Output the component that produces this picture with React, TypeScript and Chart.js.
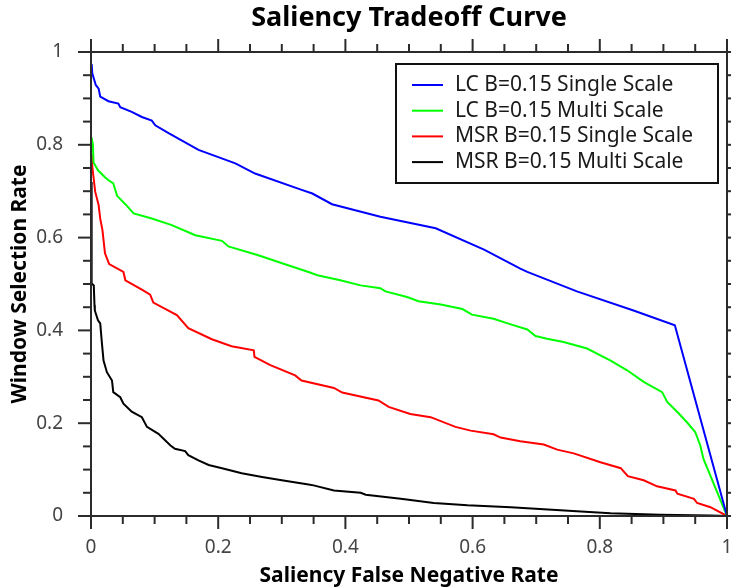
import React, { useEffect, useRef } from "react";
import { Chart, registerables } from "chart.js";

Chart.register(...registerables);

const chartTitle = "Saliency Tradeoff Curve";
const xAxisTitle = "Saliency False Negative Rate";
const yAxisTitle = "Window Selection Rate";

const seriesNames = [
  "LC B=0.15 Single Scale",
  "LC B=0.15 Multi Scale",
  "MSR B=0.15 Single Scale",
  "MSR B=0.15 Multi Scale",
];
const seriesColors = ["#0000ff", "#00ff00", "#ff0000", "#000000"];

const lcSingleX = [0.001, 0.002, 0.0075, 0.012, 0.0145, 0.0275, 0.043, 0.046, 0.064, 0.080, 0.0956, 0.101, 0.122, 0.169, 0.227, 0.258, 0.329, 0.348, 0.379, 0.455, 0.542, 0.618, 0.675, 0.686, 0.764, 0.853, 0.918, 1.0];
const lcSingleY = [0.974, 0.954, 0.929, 0.921, 0.904, 0.894, 0.889, 0.881, 0.871, 0.860, 0.852, 0.842, 0.825, 0.789, 0.760, 0.738, 0.704, 0.695, 0.672, 0.645, 0.620, 0.574, 0.533, 0.526, 0.484, 0.443, 0.411, 0.0];

const lcMultiX = [0.001, 0.003, 0.004, 0.011, 0.022, 0.027, 0.035, 0.041, 0.054, 0.067, 0.0956, 0.127, 0.164, 0.206, 0.216, 0.263, 0.311, 0.342, 0.356, 0.392, 0.424, 0.455, 0.463, 0.497, 0.515, 0.550, 0.584, 0.599, 0.633, 0.660, 0.686, 0.699, 0.717, 0.743, 0.780, 0.817, 0.843, 0.869, 0.898, 0.906, 0.922, 0.937, 0.950, 0.958, 0.963, 1.0];
const lcMultiY = [0.816, 0.80, 0.762, 0.745, 0.730, 0.724, 0.717, 0.690, 0.672, 0.652, 0.641, 0.627, 0.605, 0.593, 0.581, 0.562, 0.540, 0.526, 0.519, 0.508, 0.497, 0.491, 0.484, 0.472, 0.463, 0.456, 0.446, 0.434, 0.425, 0.413, 0.402, 0.388, 0.382, 0.375, 0.361, 0.335, 0.314, 0.289, 0.267, 0.246, 0.224, 0.202, 0.181, 0.152, 0.123, 0.0];

const msrSingleX = [0.001, 0.002, 0.0066, 0.012, 0.0145, 0.018, 0.022, 0.0286, 0.051, 0.054, 0.080, 0.093, 0.098, 0.135, 0.153, 0.190, 0.221, 0.256, 0.257, 0.282, 0.321, 0.331, 0.382, 0.395, 0.452, 0.468, 0.502, 0.534, 0.573, 0.597, 0.633, 0.644, 0.675, 0.712, 0.733, 0.759, 0.801, 0.833, 0.844, 0.869, 0.890, 0.919, 0.922, 0.948, 0.953, 0.974, 1.0];
const msrSingleY = [0.78, 0.753, 0.699, 0.670, 0.641, 0.616, 0.566, 0.543, 0.526, 0.508, 0.488, 0.477, 0.460, 0.433, 0.405, 0.381, 0.366, 0.357, 0.343, 0.325, 0.303, 0.292, 0.276, 0.266, 0.249, 0.235, 0.220, 0.213, 0.192, 0.184, 0.176, 0.169, 0.161, 0.154, 0.143, 0.135, 0.116, 0.103, 0.086, 0.077, 0.064, 0.055, 0.048, 0.037, 0.028, 0.019, 0.0];

const msrMultiX = [0.001, 0.001, 0.0044, 0.0055, 0.006, 0.011, 0.0145, 0.017, 0.0197, 0.025, 0.033, 0.035, 0.046, 0.051, 0.064, 0.080, 0.088, 0.106, 0.125, 0.132, 0.148, 0.153, 0.169, 0.185, 0.206, 0.237, 0.269, 0.300, 0.342, 0.350, 0.382, 0.424, 0.432, 0.487, 0.539, 0.592, 0.660, 0.764, 0.817, 0.895, 0.974, 1.0];
const msrMultiY = [0.72, 0.501, 0.497, 0.454, 0.443, 0.422, 0.415, 0.375, 0.335, 0.310, 0.292, 0.267, 0.256, 0.242, 0.225, 0.213, 0.192, 0.177, 0.152, 0.145, 0.140, 0.131, 0.120, 0.110, 0.103, 0.092, 0.084, 0.077, 0.068, 0.066, 0.055, 0.050, 0.046, 0.037, 0.028, 0.023, 0.019, 0.010, 0.006, 0.0026, 0.001, 0.0];

const majorTicks = [0, 0.2, 0.4, 0.6, 0.8, 1];
const majorTickLabels = ["0", "0.2", "0.4", "0.6", "0.8", "1"];
const minorTicks = [0.05, 0.1, 0.15, 0.25, 0.3, 0.35, 0.45, 0.5, 0.55, 0.65, 0.7, 0.75, 0.85, 0.9, 0.95];

const FONT = "'Noto Sans', 'DejaVu Sans', sans-serif";

function pts(xs: number[], ys: number[]) {
  return xs.map((x, i) => ({ x, y: ys[i] }));
}

const framePlugin = {
  id: "frame",
  afterDatasetsDraw(chart: any) {
    const { ctx, chartArea: a, scales } = chart;
    const xs = scales.x;
    const ys = scales.y;
    ctx.save();
    ctx.strokeStyle = "#2b2b2b";
    ctx.lineWidth = 2;
    ctx.lineCap = "butt";
    ctx.strokeRect(a.left, a.top, a.right - a.left, a.bottom - a.top);
    const seg = (x1: number, y1: number, x2: number, y2: number) => {
      ctx.beginPath();
      ctx.moveTo(x1, y1);
      ctx.lineTo(x2, y2);
      ctx.stroke();
    };
    const drawTicks = (vals: number[], len: number) => {
      for (const v of vals) {
        const px = xs.getPixelForValue(v);
        seg(px, a.bottom, px, a.bottom + len);
        seg(px, a.top, px, a.top - len);
        const py = ys.getPixelForValue(v);
        seg(a.left, py, a.left - len, py);
        seg(a.right, py, a.right + len, py);
      }
    };
    drawTicks(majorTicks, 13);
    drawTicks(minorTicks, 8);

    // legend
    const bx = a.right - 331;
    const by = a.top + 12;
    const bw = 322;
    const bh = 119;
    ctx.fillStyle = "#ffffff";
    ctx.fillRect(bx, by, bw, bh);
    ctx.strokeStyle = "#111111";
    ctx.lineWidth = 2;
    ctx.strokeRect(bx, by, bw, bh);
    ctx.font = `21px ${FONT}`;
    ctx.textBaseline = "middle";
    ctx.textAlign = "left";
    chart.data.datasets.forEach((ds: any, i: number) => {
      const ry = by + 21 + i * 25.7;
      ctx.strokeStyle = ds.borderColor;
      ctx.lineWidth = 2;
      seg(bx + 16, ry, bx + 47, ry);
      ctx.fillStyle = "#1a1a1a";
      ctx.fillText(ds.label, bx + 59, ry);
    });

    // title
    ctx.font = `bold 27px ${FONT}`;
    ctx.fillStyle = "#000000";
    ctx.textAlign = "center";
    ctx.textBaseline = "middle";
    ctx.fillText(chartTitle, (a.left + a.right) / 2, 18);
    ctx.restore();
  },
};

const zeroPad = (s: any) => {
  s.paddingLeft = 0;
  s.paddingRight = 0;
  s.paddingTop = 0;
  s.paddingBottom = 0;
};

export default function App() {
  const ref = useRef<HTMLCanvasElement | null>(null);
  useEffect(() => {
    if (!ref.current) return;
    const labelFor = (v: number) => {
      const i = majorTicks.findIndex((t) => Math.abs(t - v) < 1e-9);
      return i >= 0 ? majorTickLabels[i] : "";
    };
    const chart = new Chart(ref.current, {
      type: "line",
      data: {
        datasets: [
          { label: seriesNames[0], data: pts(lcSingleX, lcSingleY), borderColor: seriesColors[0] },
          { label: seriesNames[1], data: pts(lcMultiX, lcMultiY), borderColor: seriesColors[1] },
          { label: seriesNames[2], data: pts(msrSingleX, msrSingleY), borderColor: seriesColors[2] },
          { label: seriesNames[3], data: pts(msrMultiX, msrMultiY), borderColor: seriesColors[3] },
        ].map((d) => ({ ...d, borderWidth: 2, pointRadius: 0, tension: 0, fill: false })),
      },
      options: {
        responsive: false,
        animation: false,
        layout: { padding: { top: 52, right: 4, left: 0, bottom: 0 } },
        plugins: { legend: { display: false }, title: { display: false }, tooltip: { enabled: false } },
        scales: {
          x: {
            type: "linear",
            position: "bottom",
            min: 0,
            max: 1,
            afterFit: (s: any) => { s.height = 71; zeroPad(s); },
            afterBuildTicks: (s: any) => { s.ticks = majorTicks.map((v) => ({ value: v })); },
            ticks: { color: "#444444", font: { family: FONT, size: 19 }, padding: 20, maxRotation: 0, callback: (v: any) => labelFor(Number(v)) },
            grid: { display: false, drawTicks: false },
            border: { display: false },
            title: { display: true, text: xAxisTitle, color: "#000", font: { family: FONT, size: 21, weight: "bold", lineHeight: 1 }, padding: { top: 0, bottom: 0 } },
          },
          y: {
            type: "linear",
            position: "left",
            min: 0,
            max: 1,
            afterFit: (s: any) => { s.width = 91; zeroPad(s); },
            afterBuildTicks: (s: any) => { s.ticks = majorTicks.map((v) => ({ value: v })); },
            ticks: { color: "#444444", font: { family: FONT, size: 19 }, padding: 28, callback: (v: any) => labelFor(Number(v)) },
            grid: { display: false, drawTicks: false },
            border: { display: false },
            title: { display: true, text: yAxisTitle, color: "#000", font: { family: FONT, size: 21, weight: "bold", lineHeight: 1 }, padding: { top: 10, bottom: 0 } },
          },
        },
      },
      plugins: [framePlugin],
    } as any);
    return () => chart.destroy();
  }, []);
  return (
    <div style={{ position: "absolute", left: 0, top: 0, width: 731, height: 587, background: "#fff" }}>
      <canvas ref={ref} width={731} height={587} style={{ display: "block" }} />
    </div>
  );
}
